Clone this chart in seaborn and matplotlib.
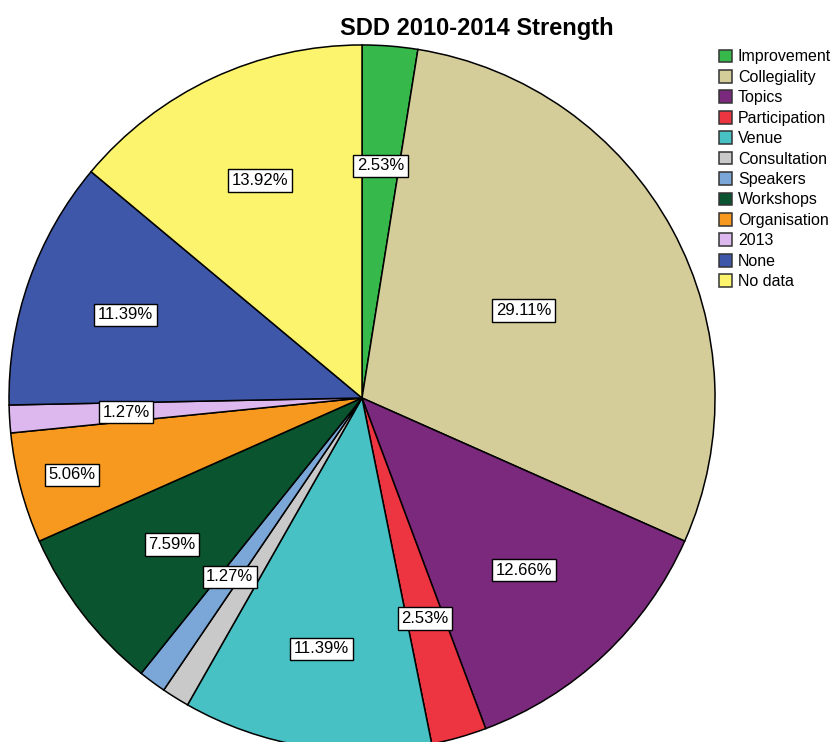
import matplotlib
matplotlib.use("Agg")
import matplotlib.pyplot as plt
import seaborn as sns
import numpy as np

categories = ["Improvement", "Collegiality", "Topics", "Participation", "Venue",
              "Consultation", "Speakers", "Workshops", "Organisation", "2013",
              "None", "No data"]
counts = [2, 23, 10, 2, 9, 1, 1, 6, 4, 1, 9, 11]
colors = ["#36b84a", "#d4cd9a", "#7b297c", "#ec3540", "#48c1c5", "#c9c9c9",
          "#7aa7d7", "#0b5430", "#f7991e", "#ddb8ee", "#3e57a8", "#fbf46c"]
# label distance from centre (fraction of radius); None = no label
label_dist = [0.66, 0.52, 0.67, 0.65, 0.72, None, 0.63, 0.68, 0.85, 0.67, 0.71, 0.68]

sns.set_style("white")
plt.rcParams["font.family"] = ["Liberation Sans", "DejaVu Sans"]
plt.rcParams["text.color"] = "black"

fig = plt.figure(figsize=(8.33, 7.42), dpi=100)
ax = fig.add_axes([0.0108, -0.0121, 0.8476, 0.9515])

wedges, _ = ax.pie(counts, colors=colors, startangle=90, counterclock=False,
                   wedgeprops=dict(edgecolor="black", linewidth=1.1))
ax.set_xlim(-1, 1)
ax.set_ylim(-1, 1)
ax.set_aspect("equal")
ax.axis("off")

total = sum(counts)
for w, c, d in zip(wedges, counts, label_dist):
    if d is None:
        continue
    ang = np.deg2rad((w.theta1 + w.theta2) / 2)
    ax.text(d * np.cos(ang), d * np.sin(ang), f"{100 * c / total:.2f}%",
            ha="center", va="center", fontsize=12, color="black",
            bbox=dict(boxstyle="square,pad=0.22", facecolor="white",
                      edgecolor="black", linewidth=1))

fig.text(0.572, 0.962, "SDD 2010-2014 Strength", ha="center", va="center",
         fontsize=17, fontweight="bold", color="black")

leg = fig.legend(wedges, categories, loc="upper left", bbox_to_anchor=(0.855, 0.942),
                 frameon=False, fontsize=11.5, handlelength=0.85, handleheight=0.85,
                 handletextpad=0.35, labelspacing=0.34, borderaxespad=0)
for h in leg.legend_handles:
    h.set_edgecolor("#333333")
for t in leg.get_texts():
    t.set_color("black")

fig.savefig("out.png", dpi=100)
